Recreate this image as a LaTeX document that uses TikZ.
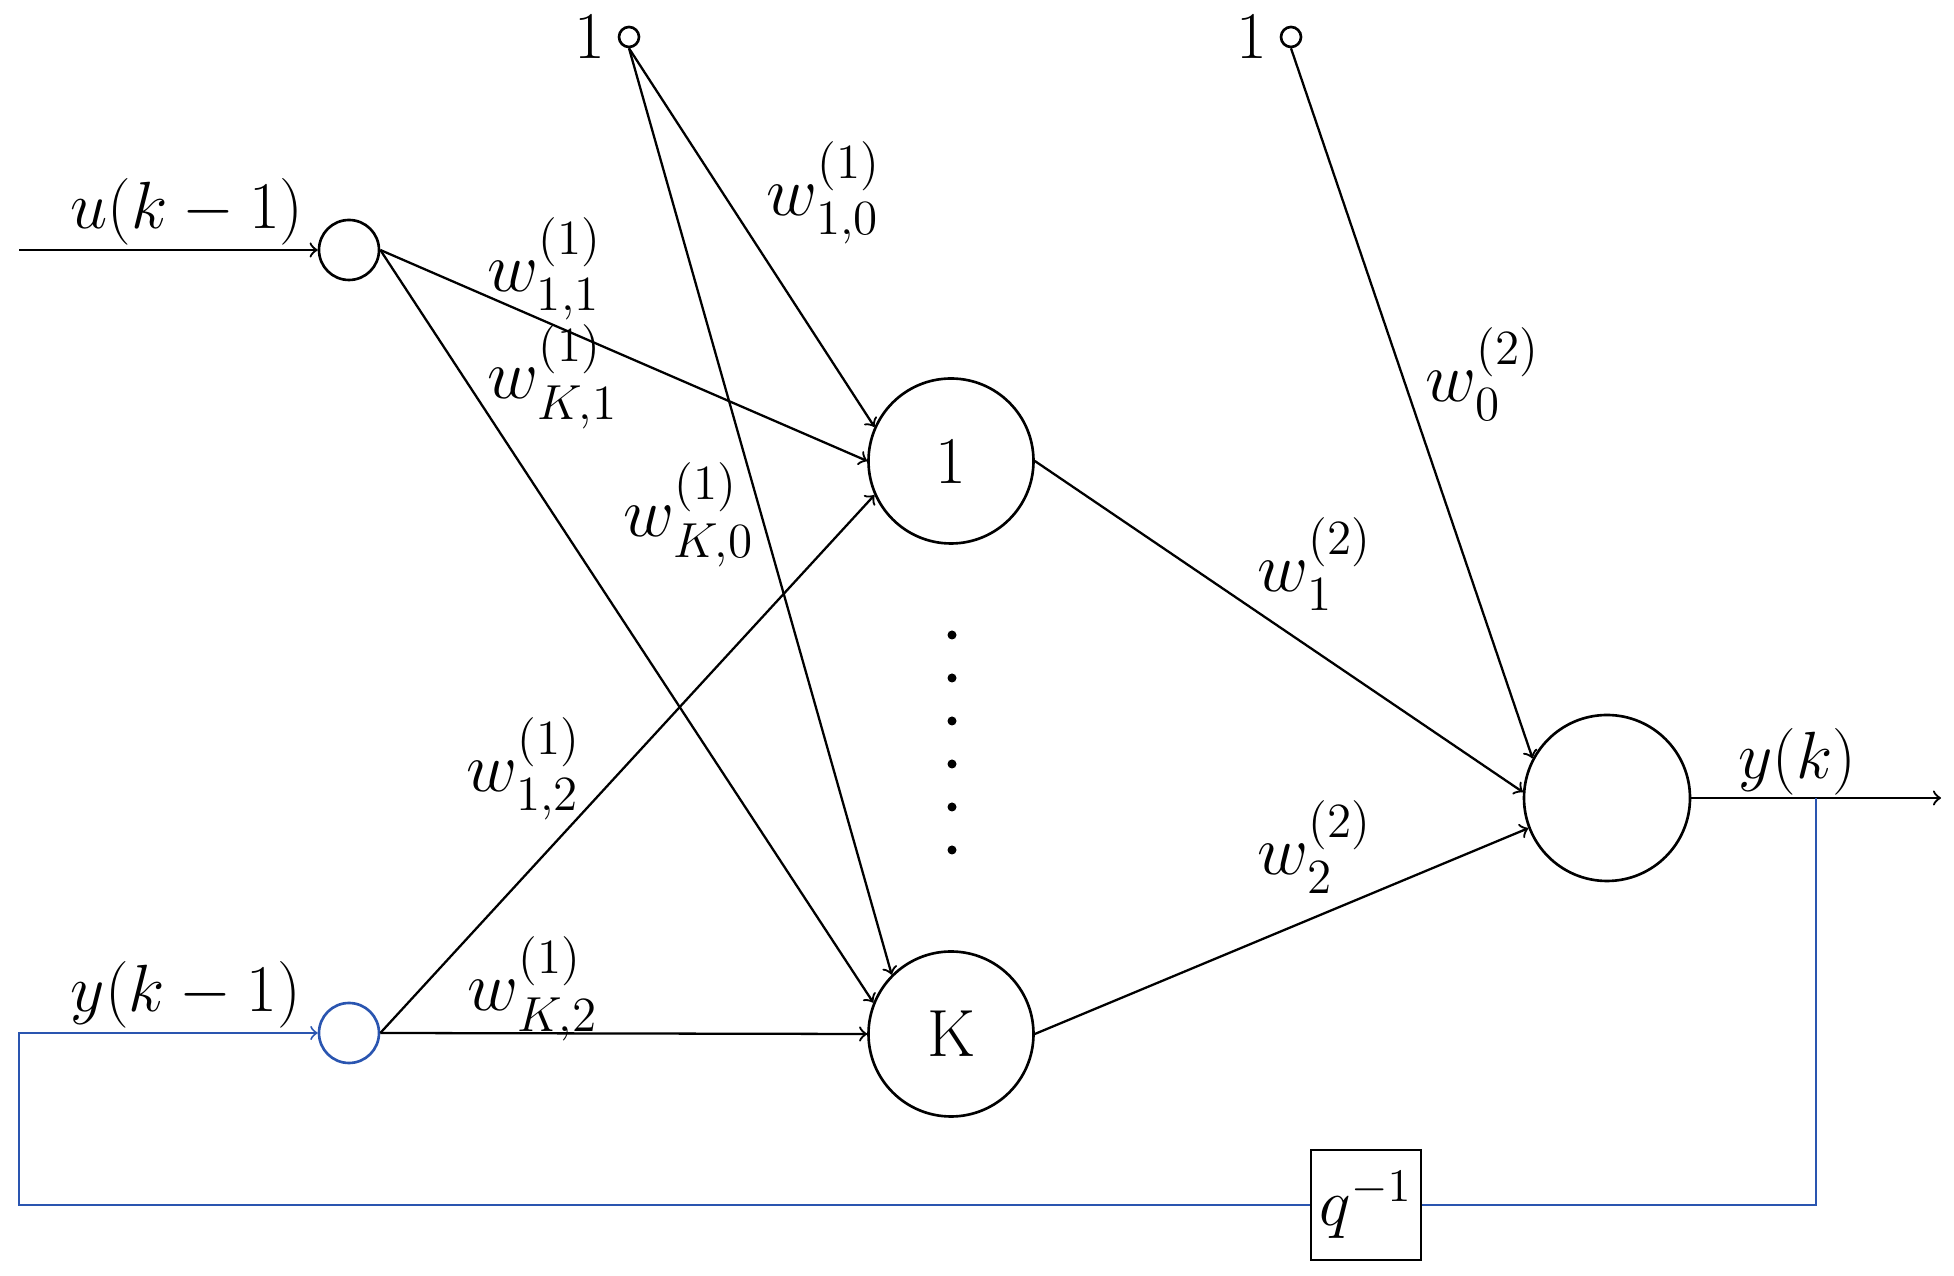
\RequirePackage{fix-cm}
\documentclass[tikz,border=0pt]{standalone}
\usepackage{amsmath}
\usepackage{tikz}
\usetikzlibrary{positioning}
\definecolor{fbblue}{HTML}{2A55B0}

\begin{document}
\begin{tikzpicture}[>=to, line width=0.65pt,
    every node/.style={font=\fontsize{19}{22}\selectfont},
    neuron/.style={draw, circle, inner sep=0pt, line width=0.75pt},
    bias/.style={draw, circle, inner sep=0pt, minimum size=0.2cm, line width=0.75pt},
    wlabel/.style={inner sep=0pt, font=\fontsize{20}{23}\selectfont}]
        \useasboundingbox (0,0) rectangle (19.54,12.76);
        \node[bias, label={[label distance=0pt]left:$1$}] (b1) at (6.29,12.39) {};
        \node[bias, label={[label distance=0pt]left:$1$}] (b2) at (12.91,12.39) {};
        \node[neuron, minimum size=0.6cm] (uin) at (3.49,10.26) {};
        \node[neuron, minimum size=0.6cm, fbblue] (yin) at (3.49,2.43) {};
        \node[neuron, minimum size=1.65cm] (h1) at (9.51,8.15) {1};
        \node[neuron, minimum size=1.65cm] (hK) at (9.51,2.42) {K};
        \node[neuron, minimum size=1.66cm] (out) at (16.07,4.78) {};
        \node[draw, minimum size=1.1cm, inner sep=1pt, line width=0.75pt] (delay) at (13.66,0.71) {$q^{-1}$};
        \coordinate (uleft) at (0.19,10.26);
        \coordinate (yend) at (19.41,4.78);
        \coordinate (fb) at (18.16,4.78);
        \coordinate (fbl) at (0.19,2.43);
        \foreach \k in {0,...,5}
            \fill (9.52,6.41-0.43*\k) circle (0.045);
        \draw[->] (uleft) -- (uin);
        \draw[->] (uin.east) -- (h1.180);
        \draw[->] (uin.east) -- (hK.158);
        \draw[->] (yin.east) -- (h1.204);
        \draw[->] (yin.east) -- (hK.180);
        \draw[->] (b1.south) -- (h1.156);
        \draw[->] (b1.south) -- (hK.135);
        \draw[->] (h1.east) -- (out.176);
        \draw[->] (hK.east) -- (out.201);
        \draw[->] (b2.south) -- (out.152);
        \draw[->] (out.east) -- (yend);
        \draw[fbblue, line width=0.55pt] (fb) |- (delay.east);
        \draw[fbblue, line width=0.55pt, ->] (delay.west) -| (fbl) -- (yin);
        \node at (1.87,10.64) {$u(k-1)$};
        \node at (1.86,2.81) {$y(k-1)$};
        \node at (17.97,5.14) {$y(k)$};
        \node[wlabel] (w10) at (8.24,10.83) {$w_{1,0}^{(1)}$};
        \node[wlabel] (w11) at (5.45,10.07) {$w_{1,1}^{(1)}$};
        \node[wlabel] (wK1) at (5.53,8.99) {$w_{K,1}^{(1)}$};
        \node[wlabel] (wK0) at (6.89,7.61) {$w_{K,0}^{(1)}$};
        \node[wlabel] (w12) at (5.24,5.07) {$w_{1,2}^{(1)}$};
        \node[wlabel] (wK2) at (5.33,2.87) {$w_{K,2}^{(1)}$};
        \node[wlabel] (v0) at (14.83,9.02) {$w_{0}^{(2)}$};
        \node[wlabel] (v1) at (13.15,7.12) {$w_{1}^{(2)}$};
        \node[wlabel] (v2) at (13.15,4.29) {$w_{2}^{(2)}$};
\end{tikzpicture}
\end{document}
